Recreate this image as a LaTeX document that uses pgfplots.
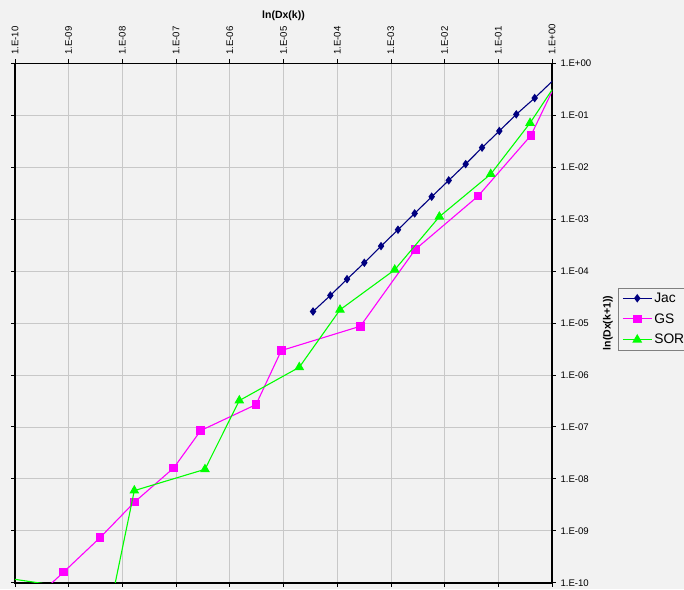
\documentclass[border=0pt]{standalone}
\usepackage{pgfplots}
\pgfplotsset{compat=1.18}
\usepackage{fontspec}
\setmainfont{Liberation Sans}
\definecolor{bg}{RGB}{242,242,242}
\definecolor{jac}{RGB}{0,0,128}
\definecolor{gs}{RGB}{255,0,255}
\definecolor{sor}{RGB}{0,255,0}
\definecolor{gridc}{RGB}{200,200,200}
\begin{document}
\begin{tikzpicture}[x=1pt,y=1pt]
\fill[bg] (0,0) rectangle (684,589);
\begin{axis}[
  at={(15pt,6.3pt)}, anchor=south west,
  scale only axis, width=537pt, height=519.4pt,
  xmode=log, ymode=log,
  xmin=1e-10, xmax=1, ymin=1e-10, ymax=1,
  xtick={1e-10,1e-9,1e-8,1e-7,1e-6,1e-5,1e-4,1e-3,1e-2,1e-1,1},
  ytick={1e-10,1e-9,1e-8,1e-7,1e-6,1e-5,1e-4,1e-3,1e-2,1e-1,1},
  xticklabels={1.E-10,1.E-09,1.E-08,1.E-07,1.E-06,1.E-05,1.E-04,1.E-03,1.E-02,1.E-01,1.E+00},
  yticklabels={1.E-10,1.E-09,1.E-08,1.E-07,1.E-06,1.E-05,1.E-04,1.E-03,1.E-02,1.E-01,1.E+00},
  xminorticks=false, yminorticks=false,
  xticklabel pos=upper, yticklabel pos=right,
  xticklabel style={rotate=90, anchor=west, font=\fontsize{9.6}{11}\selectfont, xshift=1pt},
  yticklabel style={anchor=west, font=\fontsize{9.6}{11}\selectfont, xshift=1pt},
  xlabel={ln(Dx(k))}, ylabel={ln(Dx(k+1))},
  label style={font=\bfseries\fontsize{10.5}{12}\selectfont},
  xlabel style={yshift=-3pt},
  ylabel style={yshift=-5pt},
  axis line style={line width=1.6pt, black},
  tick style={black, line width=0.8pt},
  major tick length=4pt, tick align=outside,
  grid=major, major grid style={line width=0.7pt, color=gridc},
  clip marker paths=true,
  legend style={at={(1,0.5)}, anchor=west, xshift=66pt, yshift=4pt,
    draw=gray, fill=bg, font=\fontsize{13.8}{16}\selectfont,
    row sep=5.6pt, inner xsep=4pt, inner ysep=3pt},
  legend cell align=left,
  legend image code/.code={\draw[mark repeat=2,mark phase=2,#1] plot coordinates {(0pt,0pt)(14.5pt,0pt)(29pt,0pt)};},
]
\addplot[jac, line width=1.1pt, mark=diamond*, mark size=3.4pt, mark options={solid, fill=jac}] coordinates {
(1.12,0.50)
(4.76e-1,2.143e-1)
(2.163e-1,1.040e-1)
(1.045e-1,4.97e-2)
(4.98e-2,2.377e-2)
(2.47e-2,1.148e-2)
(1.194e-2,5.57e-3)
(5.75e-3,2.70e-3)
(2.77e-3,1.288e-3)
(1.355e-3,6.25e-4)
(6.55e-4,3.02e-4)
(3.20e-4,1.445e-4)
(1.524e-4,6.98e-5)
(7.45e-5,3.388e-5)
(3.548e-5,1.667e-5)
};
\addlegendentry{Jac}
\addplot[gs, line width=1.1pt, mark=square*, mark size=3.8pt, mark options={solid, fill=gs}] coordinates {
(1.175,0.406)
(4.06e-1,4.10e-2)
(4.19e-2,2.77e-3)
(2.85e-3,2.61e-4)
(2.70e-4,8.67e-6)
(9.10e-6,2.95e-6)
(3.08e-6,2.69e-7)
(2.87e-7,8.49e-8)
(9.04e-8,1.622e-8)
(1.694e-8,3.59e-9)
(3.83e-9,7.36e-10)
(8.07e-10,1.607e-10)
(1.585e-10,3.39e-11)
};
\addlegendentry{GS}
\addplot[sor, line width=1.1pt, mark=triangle*, mark size=4.6pt, mark options={solid, fill=sor}] coordinates {
(1.164,0.390)
(3.90e-1,7.08e-2)
(7.23e-2,7.36e-3)
(7.98e-3,1.112e-3)
(1.178e-3,1.059e-4)
(1.127e-4,1.795e-5)
(1.968e-5,1.406e-6)
(1.503e-6,3.21e-7)
(3.45e-7,1.524e-8)
(1.667e-8,5.93e-9)
(6.68e-9,6.12e-11)
(2.51e-11,1.432e-10)
};
\addlegendentry{SOR}
\end{axis}
\pgfresetboundingbox
\useasboundingbox (0,0) rectangle (684,589);
\end{tikzpicture}
\end{document}
